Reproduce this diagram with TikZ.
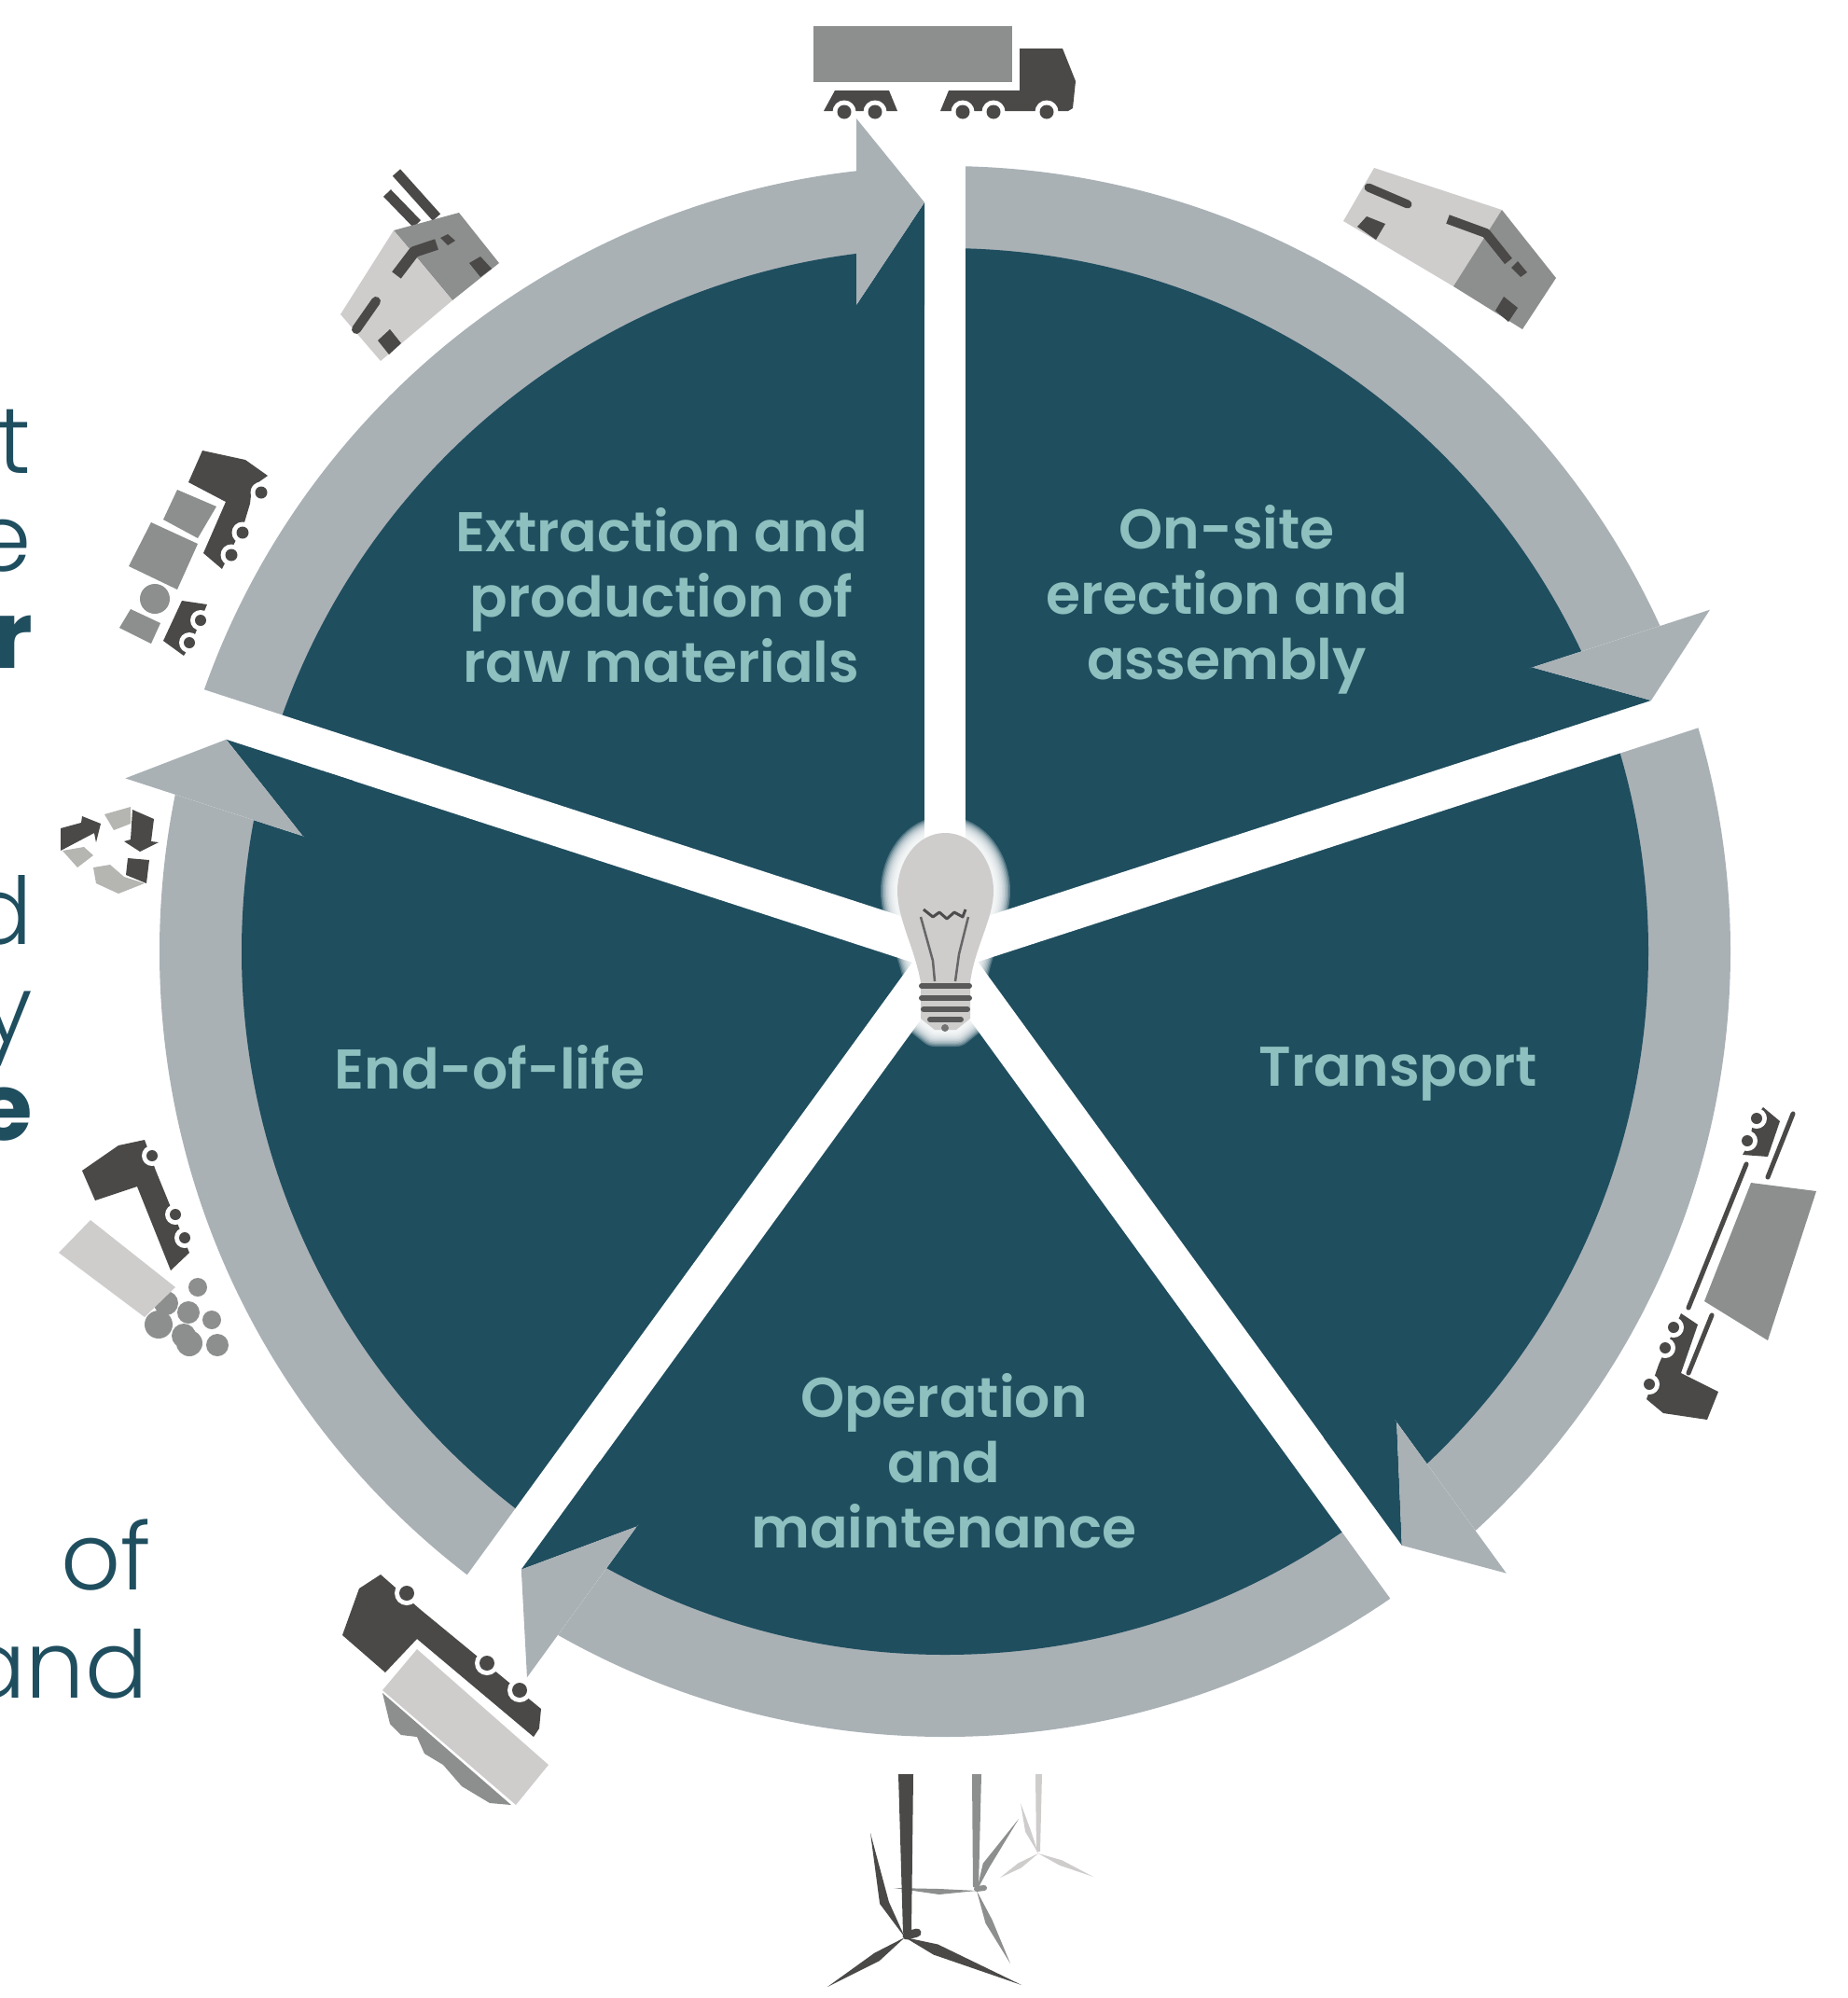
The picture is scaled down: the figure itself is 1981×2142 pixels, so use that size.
\documentclass[tikz,border=0pt]{standalone}
\usepackage{fontspec}
\setmainfont{Poppins}
\newfontfamily\labfont{Poppins SemiBold}
\newfontfamily\leftfont{Poppins Light}
\usetikzlibrary{calc}
\definecolor{panel}{HTML}{1F4E5F}
\definecolor{ringgrey}{HTML}{A9B1B5}
\definecolor{labelteal}{HTML}{8DC0BE}
\definecolor{icondark}{HTML}{4A4948}
\definecolor{iconmid}{HTML}{8C8F8E}
\definecolor{iconlight}{HTML}{CFCCCC}
\definecolor{iconpale}{HTML}{B5B6B2}
\definecolor{bulbgrey}{HTML}{CFCCCC}
\tikzset{
  phase/.style={text=labelteal,align=center,font=\labfont\fontsize{60}{70}\selectfont,inner sep=0pt},
  sidetext/.style={text=panel,anchor=base east,inner sep=0pt,font=\leftfont\fontsize{100}{105}\selectfont},
  sidebold/.style={text=panel,anchor=base east,inner sep=0pt,font=\bfseries\fontsize{100}{105}\selectfont},
  dk/.style={fill=icondark,draw=none},
  md/.style={fill=iconmid,draw=none},
  lt/.style={fill=iconlight,draw=none},
  pl/.style={fill=iconpale,draw=none},
  dkline/.style={draw=icondark,line cap=round},
}
\newcommand{\wh}[3]{\fill[white] (#1,#2) circle[radius=#3+5]; \fill[icondark] (#1,#2) circle[radius=#3];}
\newcommand{\blade}[5]{\fill[#1] (#2) -- ($(#3)!#5pt!90:(#4)$) -- (#4) -- ($(#3)!#5pt!-90:(#4)$) -- cycle;}
\newcommand{\bulbpath}{(1013,893) .. controls (1045,893) and (1065,925) .. (1065,955) .. controls (1065,985) and (1045,1015) .. (1040,1053) -- (1040,1092) -- (1025,1104) -- (1002,1104) -- (987,1092) -- (987,1053) .. controls (980,1015) and (962,985) .. (962,955) .. controls (962,925) and (982,893) .. (1013,893) -- cycle}
\begin{document}
\begin{tikzpicture}[x=1pt,y=-1pt]
\useasboundingbox (0,0) rectangle (1981,2142);
\clip (0,0) rectangle (1981,2142);
% wheel
\fill[ringgrey] (1013,1020) circle[radius=842];
\fill[panel] (1013,1020) circle[radius=754];
\foreach \k in {0,...,4}{
  \begin{scope}[shift={(1013,1020)},rotate=-72*\k]
    \fill[white] (-22,5) rectangle (21.5,-910);
    \fill[white] (-95,-910) rectangle (-21,-690);
    \fill[panel] (-95,-693) -- (-22,-803) -- (-22,-693) -- cycle;
    \fill[panel] (-95,-694) rectangle (-22,-660);
    \fill[ringgrey] (-22,-803) -- (-95,-893) -- (-95,-693) -- cycle;
  \end{scope}
}
% bulb with soft glow
\foreach \w in {36,33,...,6}{
  \draw[white,line width=\w pt,opacity=.24,line join=round] \bulbpath;
}
\fill[bulbgrey] \bulbpath;
\foreach \a/\b/\c in {988/1039/1057,988/1039/1070,990/1037/1082,997/1030/1093}{
  \draw[draw=black!65,line width=6pt,line cap=round] (\a,\c) -- (\b,\c);
}
\fill[black!55] (1013,1102) circle[radius=4];
\draw[black!60,line width=2.5pt,line join=round] (987,983) -- (1000,1030) -- (1002,1052);
\draw[black!60,line width=2.5pt,line join=round] (1038,983) -- (1028,1023) -- (1024,1052);
\draw[black!70,line width=3pt,line join=round] (990,975) -- (1000,983) -- (1007,978) -- (1015,985) -- (1023,978) -- (1032,983) -- (1035,975);
% labels
\node[phase] (extract) at (709,638) {Extraction and\\production of\\raw materials};
\node[phase] (onsite) at (1315,643) {On-site\\erection and\\assembly};
\node[phase] (transport) at (1499,1151) {Transport};
\node[phase] (operation) at (1012,1566) {Operation\\and\\maintenance};
\node[phase] (endlife) at (525,1144) {End-of-life};
% clipped side text
\node[sidetext] (s1) at (33,507) {t};
\node[sidetext] (s2) at (34,612) {e};
\node[sidebold] (s3) at (36,716) {r};
\node[sidetext] (s4) at (35,1012) {d};
\node[sidetext] (s5) at (35,1117) {y};
\node[sidebold] (s6) at (35,1222) {e};
\node[sidetext] (s7) at (162,1704) {of};
\node[sidetext] (s8) at (159,1820) {and};
% top truck
\fill[md] (872,28) rectangle (1085,88);
\fill[dk] (1093,52) -- (1139,52) -- (1153,87) -- (1150,116) -- (1145,119) -- (1008,119) -- (1017,97) -- (1093,97) -- cycle;
\fill[dk] (895,97) -- (953,97) -- (962,119) -- (883,119) -- cycle;
\wh{1032}{120}{7.5}\wh{1065}{120}{7.5}\wh{1122}{120}{7.5}\wh{905}{120}{7.5}\wh{938}{120}{7.5}
% upper right building
\fill[lt] (1473,180) -- (1610,225) -- (1558,307) -- (1440,237) -- cycle;
\fill[md] (1610,225) -- (1668,298) -- (1632,353) -- (1558,307) -- cycle;
\draw[dkline,line width=9pt] (1467,201) -- (1509,219);
\draw[dkline,line width=10pt,line cap=butt,line join=round] (1552,235) -- (1593,250) -- (1617,280);
\fill[dk] (1465,232) -- (1485,240) -- (1475,257) -- (1455,243) -- cycle;
\fill[dk] (1612,318) -- (1627,330) -- (1617,345) -- (1603,333) -- cycle;
\fill[dk] (1627,280) -- (1637,292) -- (1630,297) -- (1620,287) -- cycle;
% upper left building
\draw[dkline,line width=11pt,line cap=butt] (425,185) -- (468,233);
\draw[dkline,line width=11pt,line cap=butt] (415,207) -- (447,240);
\fill[md] (422,247) -- (492,228) -- (535,282) -- (485,322) -- (450,280) -- cycle;
\fill[lt] (422,247) -- (450,280) -- (485,322) -- (408,387) -- (365,337) -- cycle;
\draw[dkline,line width=12pt,line cap=butt,line join=round] (425,295) -- (444,270) -- (468,262);
\fill[dk] (472,255) -- (480,251) -- (488,258) -- (480,263) -- cycle;
\fill[dk] (503,282) -- (515,275) -- (527,288) -- (515,297) -- cycle;
\draw[dkline,line width=10pt] (382,353) -- (403,323);
\fill[dk] (405,365) -- (418,353) -- (430,368) -- (417,380) -- cycle;
% left trucks and loads
\fill[dk] (217,483) -- (263,493) -- (287,510) -- (270,522) -- (268,540) -- (262,560) -- (250,585) -- (238,610) -- (218,593) -- (242,538) -- (202,517) -- cycle;
\wh{280}{528}{6.5}\wh{260}{571}{6.5}\wh{248}{595}{6.5}
\fill[md] (190,525) -- (232,543) -- (212,577) -- (175,557) -- cycle;
\fill[md] (162,560) -- (212,583) -- (190,632) -- (138,607) -- cycle;
\fill[md] (166,642) circle[radius=16];
\fill[md] (140,653) -- (172,668) -- (162,690) -- (128,673) -- cycle;
\fill[dk] (195,644) -- (222,648) -- (215,665) -- (205,690) -- (197,703) -- (175,687) -- cycle;
\wh{215}{665}{6}\wh{203}{689}{6}
% recycle
\fill[dk] (65,888) -- (87,882) -- (88,875) -- (108,883) -- (103,903) -- (101,893) -- (65,912) -- cycle;
\fill[pl] (67,912) -- (90,908) -- (100,917) -- (83,930) -- cycle;
\fill[pl] (112,873) -- (140,865) -- (140,883) -- (122,890) -- cycle;
\fill[dk] (142,868) -- (165,878) -- (162,902) -- (170,903) -- (150,913) -- (133,902) -- (140,900) -- cycle;
\fill[dk] (137,920) -- (160,922) -- (157,947) -- (135,938) -- cycle;
\fill[pl] (100,930) -- (118,927) -- (133,940) -- (155,947) -- (127,958) -- (103,947) -- cycle;
% left-lower tipper
\fill[dk] (88,1255) -- (127,1228) -- (155,1222) -- (167,1255) -- (203,1343) -- (183,1362) -- (147,1272) -- (102,1287) -- cycle;
\wh{163}{1239}{6}\wh{188}{1302}{6}\wh{198}{1327}{6}
\fill[md] (178,1397) circle[radius=13];
\fill[fill=iconlight] (97,1308) -- (188,1380) -- (155,1412) -- (63,1343) -- cycle;
\foreach \x/\y/\r in {212/1380/10,202/1407/12,227/1415/10,170/1420/15,197/1432/13,203/1440/14,233/1442/12}{
  \fill[md] (\x,\y) circle[radius=\r];
}
% lower-left truck
\fill[dk] (367,1753) -- (385,1703) -- (408,1688) -- (450,1725) -- (580,1832) -- (578,1853) -- (572,1862) -- (447,1757) -- (413,1793) -- cycle;
\wh{436}{1708}{8}\wh{522}{1783}{8}\wh{557}{1812}{8}
\fill[md] (410,1815) -- (418,1848) -- (430,1860) -- (447,1862) -- (455,1880) -- (475,1892) -- (495,1915) -- (525,1933) -- (548,1935) -- cycle;
\fill[lt] (447,1768) -- (588,1892) -- (553,1935) -- (410,1812) -- cycle;
% wind turbines
\fill[iconlight] (1110,1902) -- (1117,1902) -- (1115,1985) -- (1111,1985) -- cycle;
\blade{iconlight}{1113,1987}{1102,1963}{1094,1933}{3}
\blade{iconlight}{1113,1987}{1137,1997}{1172,2012}{3}
\blade{iconlight}{1113,1987}{1093,2000}{1072,2013}{3}
\fill[iconmid] (1042,1902) -- (1052,1902) -- (1049,2023) -- (1043,2023) -- cycle;
\blade{iconmid}{1047,2027}{1057,2000}{1092,1950}{4}
\blade{iconmid}{1047,2027}{1060,2060}{1083,2105}{4}
\blade{iconmid}{1047,2027}{1007,2028}{958,2024}{3}
\draw[iconmid,line width=6pt,line cap=round] (1047,2025) -- (1055,2024);
\fill[icondark] (963,1902) -- (979,1902) -- (977,2072) -- (968,2072) -- cycle;
\blade{icondark}{970,2077}{948,2040}{933,1965}{5}
\blade{icondark}{970,2077}{940,2098}{887,2130}{5}
\blade{icondark}{970,2077}{1003,2090}{1095,2128}{6}
\draw[icondark,line width=9pt,line cap=round] (972,2075) -- (983,2072);
% right truck
\fill[dk] (1890,1187) -- (1908,1202) -- (1895,1240) -- (1868,1238) -- (1875,1225) -- (1880,1200) -- cycle;
\wh{1883}{1199}{6}\wh{1873}{1223}{6}
\draw[dkline,line width=5pt] (1922,1194) -- (1895,1262);
\draw[dkline,line width=5pt] (1872,1248) -- (1810,1402);
\fill[md] (1877,1268) -- (1947,1277) -- (1895,1437) -- (1827,1395) -- cycle;
\draw[dkline,line width=5pt] (1835,1410) -- (1810,1472);
\fill[dk] (1802,1408) -- (1820,1420) -- (1802,1472) -- (1842,1492) -- (1830,1522) -- (1783,1515) -- (1765,1500) -- (1778,1463) -- cycle;
\wh{1794}{1423}{6}\wh{1785}{1445}{6}\wh{1768}{1484}{6}
\end{tikzpicture}
\end{document}
